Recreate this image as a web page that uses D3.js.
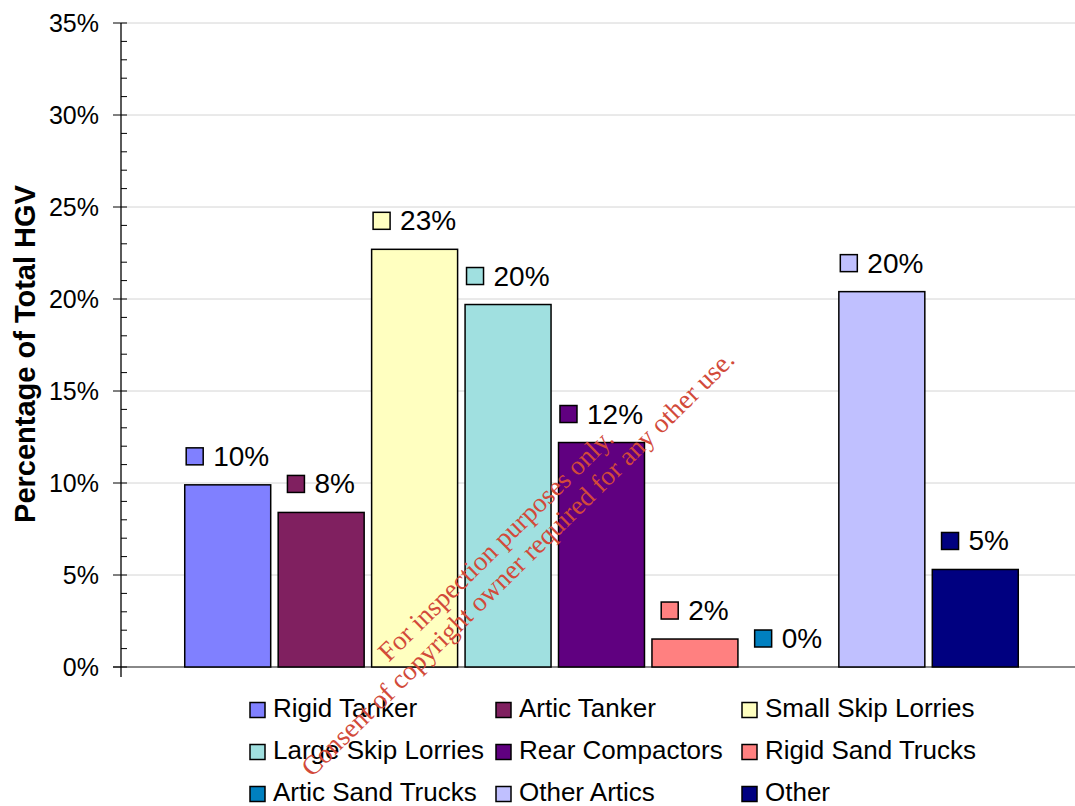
<!DOCTYPE html>
<html lang="en">
<head>
  <meta charset="UTF-8">
  <title>Percentage of Total HGV</title>
  <style>
    body{ margin:0; background:#fff; }
    text{ font-family: Arial, "Liberation Sans", sans-serif; fill:#000; }
    .grid-line{ stroke:#d4d4d4; stroke-width:1; }
    .wm{ font-family: "Times New Roman", "Liberation Serif", serif; fill:#d24a3a; font-size:27px; }
  </style>
</head>
<body>
  <script src="https://cdn.jsdelivr.net/npm/d3@7"></script>
  <script>
    const categories = ['Rigid Tanker', 'Artic Tanker', 'Small Skip Lorries', 'Large Skip Lorries',
      'Rear Compactors', 'Rigid Sand Trucks', 'Artic Sand Trucks', 'Other Artics', 'Other'];
    const values = [9.9, 8.4, 22.7, 19.7, 12.2, 1.52, 0, 20.4, 5.3];
    const colors = ['#8080ff', '#802060', '#ffffc0', '#a0e0e0', '#600080', '#ff8080', '#0080c0', '#c0c0ff', '#000080'];
    const yTicks = [0, 5, 10, 15, 20, 25, 30, 35];

    const width = 1075, height = 806;
    const x0 = 121, y0 = 667, yTop = 23;

    const svg = d3.select('body').append('svg')
      .attr('width', width)
      .attr('height', height);

    const y = d3.scaleLinear().domain([0, 35]).range([y0, yTop]);
    const x = d3.scaleBand().domain(categories).range([181, 1022])
      .paddingInner(0.08).paddingOuter(0.04);

    // gridlines
    svg.append('g').selectAll('line').data(yTicks.slice(1)).join('line')
      .classed('grid-line', true)
      .attr('x1', x0).attr('x2', width)
      .attr('y1', d => y(d)).attr('y2', d => y(d));

    // baseline
    svg.append('line')
      .attr('x1', x0 - 8).attr('x2', width)
      .attr('y1', y0).attr('y2', y0)
      .attr('stroke', '#888').attr('stroke-width', 2);

    // y axis
    const yAxis = svg.append('g').attr('class', 'y-axis');
    yAxis.append('line')
      .attr('x1', x0).attr('x2', x0)
      .attr('y1', yTop).attr('y2', y0 + 10)
      .attr('stroke', '#000').attr('stroke-width', 1.3);
    yAxis.selectAll('line.minor').data(d3.range(1, 35).filter(d => d % 5 !== 0)).join('line')
      .attr('class', 'minor')
      .attr('x1', x0).attr('x2', x0 + 6)
      .attr('y1', d => y(d)).attr('y2', d => y(d))
      .attr('stroke', '#000').attr('stroke-width', 1);
    yAxis.selectAll('line.major').data(yTicks).join('line')
      .attr('class', 'major')
      .attr('x1', x0 - 8).attr('x2', x0 + 6)
      .attr('y1', d => y(d)).attr('y2', d => y(d))
      .attr('stroke', '#000').attr('stroke-width', 1);
    yAxis.selectAll('text').data(yTicks).join('text')
      .attr('x', 99)
      .attr('y', d => y(d))
      .attr('dy', '0.36em')
      .attr('text-anchor', 'end')
      .style('font-size', '25px')
      .text(d => d + '%');

    svg.append('text')
      .attr('transform', 'translate(35,354) rotate(-90)')
      .attr('text-anchor', 'middle')
      .style('font-size', '29px')
      .style('font-weight', 'bold')
      .text('Percentage of Total HGV');

    // bars (the 0% one is not drawn)
    svg.append('g').selectAll('rect').data(categories).join('rect')
      .attr('x', d => x(d))
      .attr('width', x.bandwidth())
      .attr('y', (d, i) => y(values[i]))
      .attr('height', (d, i) => y0 - y(values[i]))
      .attr('fill', (d, i) => colors[i])
      .attr('stroke', '#000')
      .attr('stroke-width', 1.5)
      .style('display', (d, i) => values[i] > 0 ? null : 'none');

    // data labels: small key + value
    const lab = svg.append('g').selectAll('g').data(categories).join('g')
      .attr('transform', (d, i) => `translate(${x(d) + x.bandwidth() / 2},${y(values[i]) - 19})`);
    lab.append('text')
      .style('font-size', '28px')
      .text((d, i) => Math.round(values[i]) + '%')
      .each(function () {
        const w = this.getComputedTextLength();
        const left = -(17 + 10 + w) / 2;
        d3.select(this).attr('x', left + 27);
        d3.select(this.parentNode).insert('rect', 'text')
          .attr('x', left).attr('y', -18)
          .attr('width', 17).attr('height', 17);
      });
    lab.select('rect')
      .attr('fill', (d, i) => colors[i])
      .attr('stroke', '#000').attr('stroke-width', 1.5);

    // legend
    const legend = svg.append('g').selectAll('g').data(categories).join('g')
      .attr('transform', (d, i) => `translate(${250 + (i % 3) * 246},${710 + Math.floor(i / 3) * 42})`);
    legend.append('rect')
      .attr('x', 0).attr('y', -7.5)
      .attr('width', 15).attr('height', 15)
      .attr('fill', (d, i) => colors[i])
      .attr('stroke', '#000').attr('stroke-width', 1.5);
    legend.append('text')
      .attr('x', 23).attr('y', 7)
      .style('font-size', '26px')
      .text(d => d);

    // watermark
    const wm = svg.append('g').attr('transform', 'translate(502,551.5) rotate(-44.5)');
    wm.append('text').attr('class', 'wm').attr('text-anchor', 'middle')
      .attr('x', 0).attr('y', 0).text('For inspection purposes only.');
    wm.append('text').attr('class', 'wm').attr('text-anchor', 'middle')
      .attr('x', 3).attr('y', 28.5).text('Consent of copyright owner required for any other use.');
  </script>
</body>
</html>
